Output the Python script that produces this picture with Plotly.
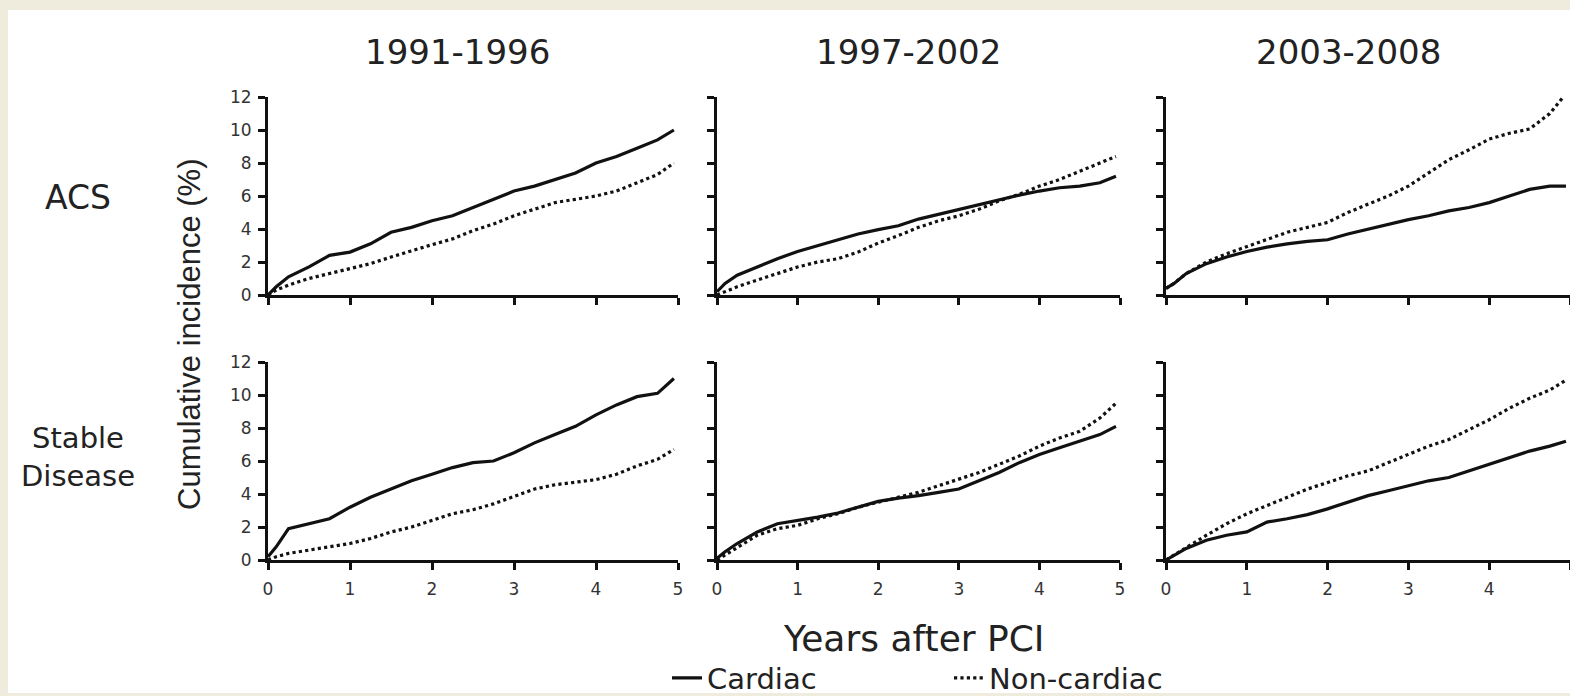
import plotly.graph_objects as go
from plotly.subplots import make_subplots

# ---- data ----
years = [0, 0.1, 0.25, 0.5, 0.75, 1.0, 1.25, 1.5, 1.75, 2.0, 2.25, 2.5,
         2.75, 3.0, 3.25, 3.5, 3.75, 4.0, 4.25, 4.5, 4.75, 4.95]

periods = ["1991-1996", "1997-2002", "2003-2008"]
group_acs = "ACS"
group_sd = "Stable<br>Disease"

acs_cardiac_9196 = [0, 0.5, 1.1, 1.7, 2.4, 2.6, 3.1, 3.8, 4.1, 4.5, 4.8, 5.3, 5.8, 6.3, 6.6, 7.0, 7.4, 8.0, 8.4, 8.9, 9.4, 10.0]
acs_noncard_9196 = [0, 0.3, 0.6, 1.0, 1.3, 1.6, 1.9, 2.3, 2.7, 3.05, 3.4, 3.9, 4.3, 4.8, 5.2, 5.6, 5.8, 6.0, 6.3, 6.8, 7.3, 8.0]
acs_cardiac_9702 = [0.2, 0.7, 1.2, 1.7, 2.2, 2.64, 3.0, 3.35, 3.7, 3.96, 4.2, 4.6, 4.9, 5.18, 5.5, 5.8, 6.05, 6.3, 6.5, 6.6, 6.8, 7.2]
acs_noncard_9702 = [0, 0.2, 0.5, 0.9, 1.3, 1.7, 2.0, 2.2, 2.6, 3.15, 3.6, 4.1, 4.5, 4.8, 5.2, 5.7, 6.1, 6.6, 7.0, 7.5, 8.0, 8.4]
acs_cardiac_0308 = [0.4, 0.7, 1.3, 1.9, 2.3, 2.64, 2.9, 3.1, 3.25, 3.35, 3.7, 4.0, 4.3, 4.57, 4.8, 5.1, 5.3, 5.6, 6.0, 6.4, 6.6, 6.6]
acs_noncard_0308 = [0.4, 0.7, 1.3, 2.0, 2.5, 2.95, 3.4, 3.8, 4.1, 4.4, 5.0, 5.5, 6.0, 6.6, 7.4, 8.2, 8.8, 9.45, 9.8, 10.06, 11.0, 12.2]

sd_cardiac_9196 = [0.2, 0.8, 1.9, 2.2, 2.5, 3.2, 3.8, 4.3, 4.8, 5.2, 5.6, 5.9, 6.0, 6.5, 7.1, 7.6, 8.1, 8.8, 9.4, 9.9, 10.1, 11.0]
sd_noncard_9196 = [0, 0.2, 0.4, 0.6, 0.8, 1.0, 1.3, 1.7, 2.0, 2.4, 2.8, 3.05, 3.4, 3.85, 4.3, 4.56, 4.7, 4.87, 5.2, 5.7, 6.1, 6.7]
sd_cardiac_9702 = [0.1, 0.5, 1.0, 1.7, 2.2, 2.4, 2.6, 2.85, 3.2, 3.55, 3.75, 3.9, 4.1, 4.3, 4.8, 5.3, 5.9, 6.4, 6.8, 7.2, 7.6, 8.1]
sd_noncard_9702 = [0, 0.3, 0.8, 1.5, 1.9, 2.1, 2.5, 2.8, 3.2, 3.5, 3.8, 4.1, 4.5, 4.9, 5.3, 5.8, 6.3, 6.9, 7.4, 7.8, 8.6, 9.5]
sd_cardiac_0308 = [0, 0.3, 0.7, 1.2, 1.5, 1.7, 2.3, 2.5, 2.75, 3.1, 3.5, 3.9, 4.2, 4.5, 4.8, 5.0, 5.4, 5.8, 6.2, 6.6, 6.9, 7.2]
sd_noncard_0308 = [0, 0.3, 0.8, 1.5, 2.2, 2.8, 3.3, 3.8, 4.3, 4.7, 5.1, 5.4, 5.9, 6.4, 6.9, 7.3, 7.9, 8.5, 9.2, 9.8, 10.3, 10.9]

x_ticks = [0, 1, 2, 3, 4, 5]
y_ticks = [0, 2, 4, 6, 8, 10, 12]

panels = [
    [(acs_cardiac_9196, acs_noncard_9196), (acs_cardiac_9702, acs_noncard_9702), (acs_cardiac_0308, acs_noncard_0308)],
    [(sd_cardiac_9196, sd_noncard_9196), (sd_cardiac_9702, sd_noncard_9702), (sd_cardiac_0308, sd_noncard_0308)],
]

W, H = 1570, 696
FONT = "DejaVu Sans, sans-serif"
FONT_Y = "Liberation Sans, Arial, sans-serif"
TXT = "#222222"

fig = make_subplots(rows=2, cols=3)

# pixel layout of the plot areas
col_px = [(268, 678), (717, 1120), (1166, 1570)]
row_px = [(97, 295), (362, 560)]

for r in range(2):
    for c in range(3):
        card, nonc = panels[r][c]
        first = (r == 0 and c == 0)
        fig.add_trace(go.Scatter(x=years, y=card, mode="lines", name="Cardiac",
                                 line=dict(color="#111111", width=3.2),
                                 showlegend=first, legendrank=1),
                      row=r + 1, col=c + 1)
        fig.add_trace(go.Scatter(x=years, y=nonc, mode="lines", name="Non-cardiac",
                                 line=dict(color="#111111", width=3.2, dash="dot"),
                                 showlegend=first, legendrank=2),
                      row=r + 1, col=c + 1)
        x0, x1 = col_px[c]
        y0, y1 = row_px[r]
        fig.update_xaxes(domain=[x0 / W, x1 / W], range=[0, 5],
                         tickvals=x_ticks, showticklabels=(r == 1),
                         ticks="outside", ticklen=7, tickwidth=2.5, tickcolor="#111",
                         ticklabelstandoff=5,
                         showline=True, linewidth=2.8, linecolor="#111",
                         showgrid=False, zeroline=False,
                         tickfont=dict(size=17, color="#333", family=FONT),
                         row=r + 1, col=c + 1)
        fig.update_yaxes(domain=[(H - y1) / H, (H - y0) / H], range=[0, 12],
                         tickvals=y_ticks, showticklabels=(c == 0),
                         ticks="outside", ticklen=7, tickwidth=2.5, tickcolor="#111",
                         ticklabelstandoff=3,
                         showline=True, linewidth=2.8, linecolor="#111",
                         showgrid=False, zeroline=False,
                         tickfont=dict(size=17, color="#333", family=FONT),
                         row=r + 1, col=c + 1)

def px_x(v):
    return v / W

def px_y(v):
    return (H - v) / H

def label(text, x, y, size, angle=0, family=FONT):
    return dict(text=text, x=px_x(x), y=px_y(y), xref="paper", yref="paper",
                xanchor="center", yanchor="middle", showarrow=False, textangle=angle,
                align="center", font=dict(size=size, color=TXT, family=family))

annotations = []
title_centers = [457, 908, 1348]
for t, cx in zip(periods, title_centers):
    annotations.append(label(t, cx, 52, 34))
annotations.append(label(group_acs, 78, 198, 33))
annotations.append(label(group_sd, 78, 457, 29))
annotations.append(label("Cumulative incidence (%)", 189, 335, 31, angle=-90, family=FONT_Y))
annotations.append(label("Years after PCI", 914, 638, 36))

fig.update_layout(
    width=W, height=H,
    margin=dict(l=0, r=0, t=0, b=0, autoexpand=False),
    paper_bgcolor="#efebdd",
    plot_bgcolor="rgba(0,0,0,0)",
    annotations=annotations,
    shapes=[dict(type="rect", xref="paper", yref="paper", layer="below",
                 x0=8 / W, x1=1.0, y0=px_y(693), y1=px_y(10),
                 fillcolor="white", line=dict(width=0))],
    showlegend=True,
    legend=dict(orientation="h", x=px_x(667), y=px_y(678), xanchor="left", yanchor="middle",
                bgcolor="rgba(0,0,0,0)", font=dict(size=29, color=TXT, family=FONT),
                entrywidth=237, entrywidthmode="pixels", itemwidth=30,
                tracegroupgap=0),
)

fig.write_html("out.html")
